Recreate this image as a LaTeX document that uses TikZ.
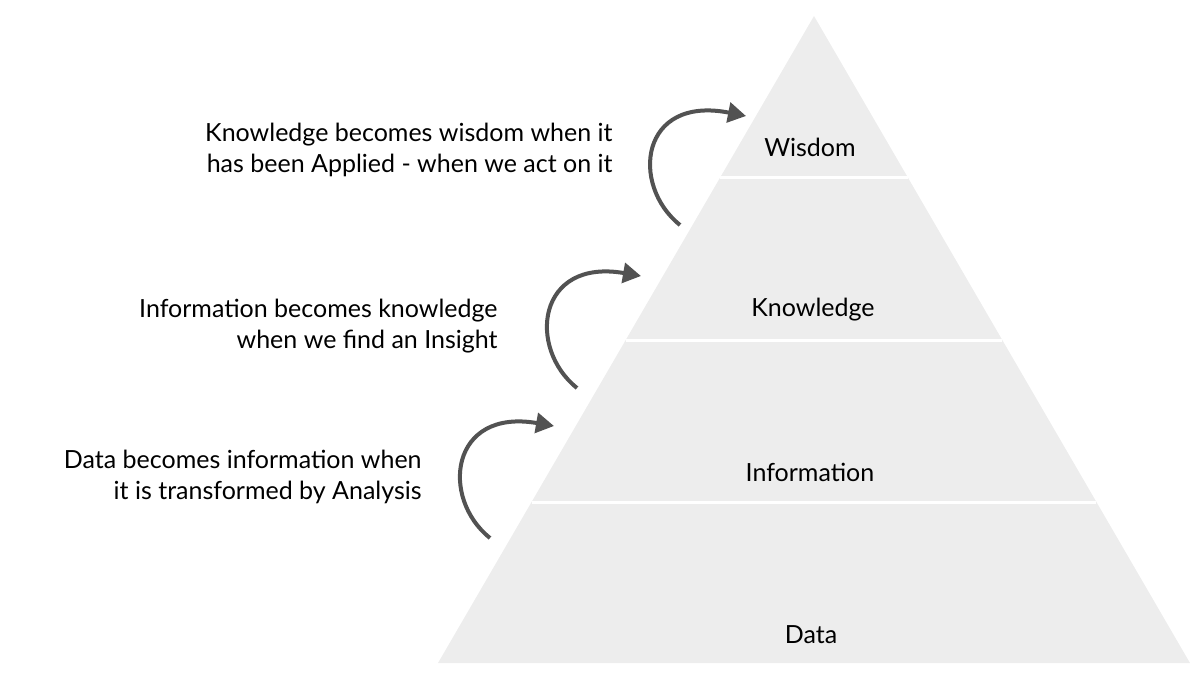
\documentclass[tikz,border=0pt]{standalone}
\usepackage{fontspec}
\setmainfont{Lato}
\usetikzlibrary{arrows.meta}
\begin{document}
\begin{tikzpicture}[x=0.5pt,y=-0.5pt,
  lbl/.style={font=\fontsize{12.5}{15.5}\selectfont, text=black, inner sep=0pt},
  note/.style={lbl, align=right, anchor=east},
  arc/.style={draw=black!68, line width=2pt, -{Triangle[length=9pt,width=10pt]}},
  sep/.style={draw=white, line width=1.5pt}]
\useasboundingbox (0,0) rectangle (1200,677);
\fill[black!7] (814,16) -- (438,663) -- (1190,663) -- cycle;
\foreach \y in {177,340,502}{
  \pgfmathsetmacro{\dx}{(\y-16)/647*376}
  \draw[sep] ({814-\dx},\y) -- ({814+\dx},\y);
}
\node[lbl] (w) at (810,147) {Wisdom};
\node[lbl] (k) at (813,310) {Knowledge};
\node[lbl] (i) at (810,472) {Information};
\node[lbl] (d) at (811,635) {Data};
\node[note] (n1) at (613,150) {Knowledge becomes wisdom when it\\has been Applied - when we act on it};
\node[note] (n2) at (498,326) {Information becomes knowledge\\when we find an Insight};
\node[note] (n3) at (422,477) {Data becomes information when\\it is transformed by Analysis};
\coordinate (a1) at (680,225); \coordinate (b1) at (746,116);
\coordinate (a2) at (577,388); \coordinate (b2) at (641,276);
\coordinate (a3) at (490,538); \coordinate (b3) at (554,426);
\draw[arc] (a1) .. controls (630,185) and (640,95) .. (b1);
\draw[arc] (a2) .. controls (527,348) and (537,258) .. (b2);
\draw[arc] (a3) .. controls (440,498) and (450,408) .. (b3);
\end{tikzpicture}
\end{document}
